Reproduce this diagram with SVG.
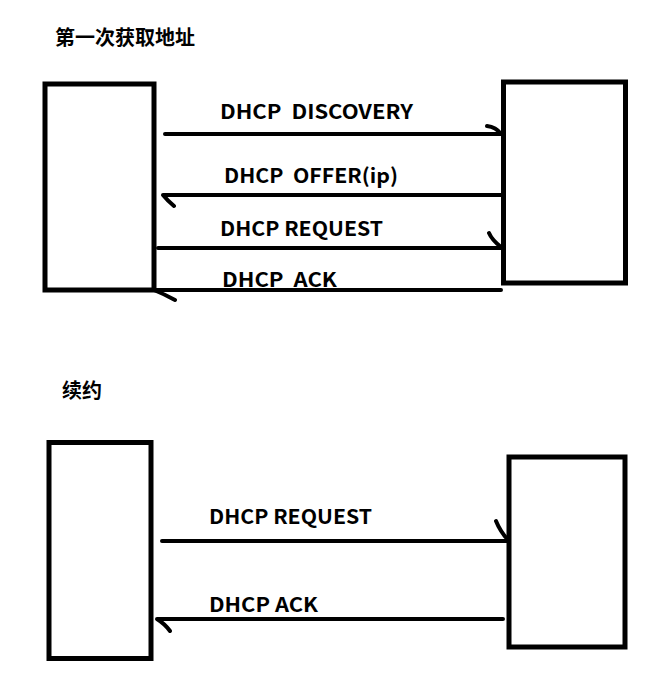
<svg xmlns="http://www.w3.org/2000/svg" width="652" height="676" viewBox="0 0 652 676">
<style>
.box{fill:#fff;stroke:#000;stroke-width:5}
.ln{fill:none;stroke:#000;stroke-width:4;stroke-linecap:round;stroke-linejoin:round}
.t{font-family:"Noto Sans CJK SC","Noto Sans",sans-serif;font-weight:bold;font-size:20px;fill:#000}
</style>
<rect width="652" height="676" fill="#fff"/>
<text class="t" x="55" y="45">第一次获取地址</text>
<text class="t" x="62" y="398">续约</text>
<g id="client1"><rect class="box" x="45" y="84" width="109" height="206"/></g>
<g id="server1"><rect class="box" x="503.5" y="82" width="122" height="201"/></g>
<g id="client2"><rect class="box" x="49" y="442.5" width="102" height="216"/></g>
<g id="server2"><rect class="box" x="509" y="457" width="116" height="190"/></g>
<g id="connectors">
<path class="ln" d="M165 134 L501 134 M487 126 Q496 127 501 134"/>
<path class="ln" d="M502 195 L163 195 Q167 200 174 206"/>
<path class="ln" d="M158 248 L501 248 M489 233 Q492 240 501 247"/>
<path class="ln" d="M501 290 L154 290 Q164 294 175 300"/>
<path class="ln" d="M162 541 L508 541 M496 521 Q500 531 508 540"/>
<path class="ln" d="M503 619 L157 619 Q165 624 170 631"/>
</g>
<g id="labels">
<text class="t" x="220" y="119" textLength="193" lengthAdjust="spacingAndGlyphs" xml:space="preserve">DHCP  DISCOVERY</text>
<text class="t" x="224" y="183" textLength="174" lengthAdjust="spacingAndGlyphs" xml:space="preserve">DHCP  OFFER(ip)</text>
<text class="t" x="220" y="236" textLength="163" lengthAdjust="spacingAndGlyphs">DHCP REQUEST</text>
<text class="t" x="222" y="287" textLength="115" lengthAdjust="spacingAndGlyphs" xml:space="preserve">DHCP  ACK</text>
<text class="t" x="209" y="524" textLength="163" lengthAdjust="spacingAndGlyphs">DHCP REQUEST</text>
<text class="t" x="209" y="612" textLength="109" lengthAdjust="spacingAndGlyphs">DHCP ACK</text>
</g>
</svg>
